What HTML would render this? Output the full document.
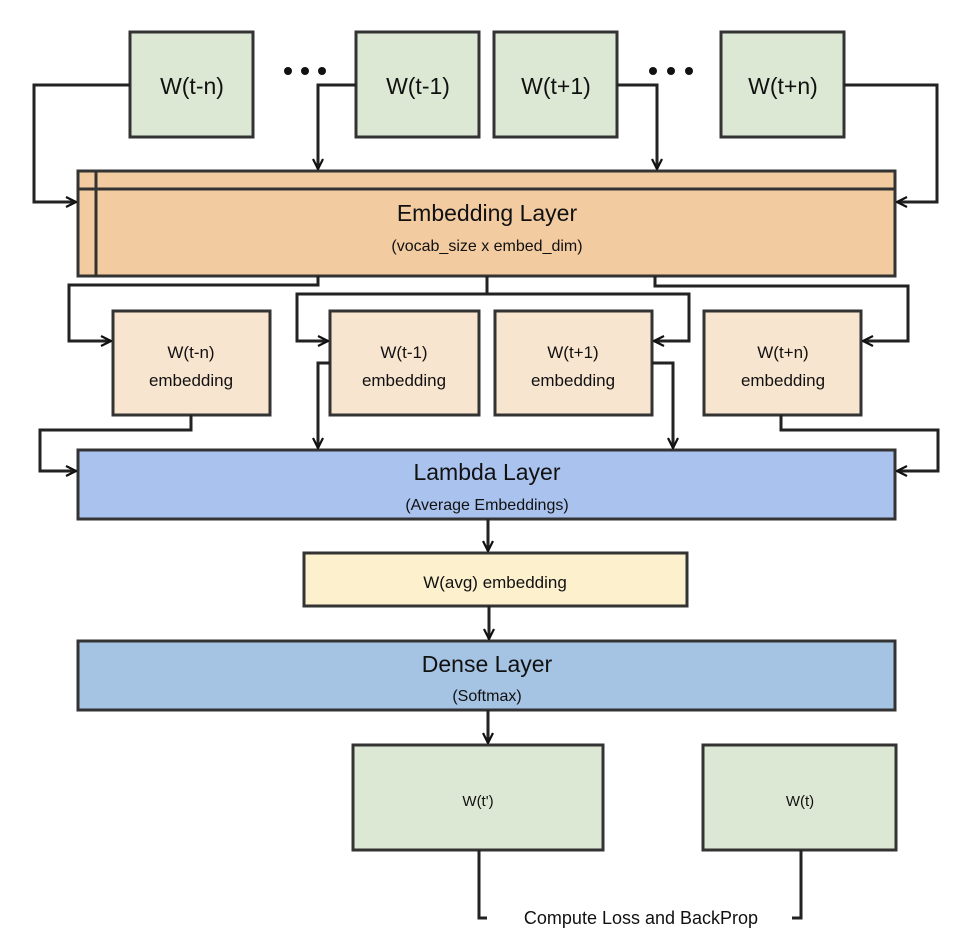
<!DOCTYPE html>
<html><head><meta charset="utf-8"><style>
html,body{margin:0;padding:0;background:#fff;}
svg{display:block;}
text{font-family:"Liberation Sans",sans-serif;fill:#111;text-anchor:middle;}
</style></head><body>
<svg width="970" height="944" viewBox="0 0 970 944" xmlns="http://www.w3.org/2000/svg">
<defs>
<marker id="a" viewBox="0 0 12 12" refX="11" refY="6" markerWidth="12" markerHeight="12" markerUnits="userSpaceOnUse" orient="auto">
<path d="M1,1 L11,6 L1,11" fill="none" stroke="#111" stroke-width="2.2"/>
</marker>
</defs>
<g stroke="#333" stroke-width="3">
<rect x="130" y="32" width="123" height="105" fill="#dce8d4"/>
<rect x="356" y="32" width="123" height="105" fill="#dce8d4"/>
<rect x="494" y="32" width="123" height="105" fill="#dce8d4"/>
<rect x="721" y="32" width="123" height="105" fill="#dce8d4"/>
<rect x="78" y="171" width="817" height="105" fill="#f2cba1"/>
<line x1="78" y1="189" x2="895" y2="189"/>
<line x1="96" y1="171" x2="96" y2="276"/>
<rect x="113" y="311" width="157" height="104" fill="#f8e5d0"/>
<rect x="330" y="311" width="149" height="104" fill="#f8e5d0"/>
<rect x="495" y="311" width="157" height="104" fill="#f8e5d0"/>
<rect x="704" y="311" width="157" height="104" fill="#f8e5d0"/>
<rect x="78" y="450" width="817" height="69" fill="#a9c2ee"/>
<rect x="304" y="553" width="383" height="53" fill="#fdf0cd"/>
<rect x="78" y="641" width="817" height="69" fill="#a5c3e3"/>
<rect x="353" y="745" width="250" height="105" fill="#dce8d4"/>
<rect x="703" y="745" width="193" height="105" fill="#dce8d4"/>
</g>
<g fill="none" stroke="#222" stroke-width="3">
<path d="M130,85 H34 V202 H76" marker-end="url(#a)"/>
<path d="M356,85 H318 V169" marker-end="url(#a)"/>
<path d="M617,85 H657 V169" marker-end="url(#a)"/>
<path d="M844,85 H937 V202 H897" marker-end="url(#a)"/>
<path d="M318,276 V285 H69 V341 H111" marker-end="url(#a)"/>
<path d="M487,276 V294 H297 V341 H328" marker-end="url(#a)"/>
<path d="M487,294 H689 V341 H654" marker-end="url(#a)"/>
<path d="M655,276 V286 H908 V341 H863" marker-end="url(#a)"/>
<path d="M191,415 V430 H40 V471 H76" marker-end="url(#a)"/>
<path d="M330,363 H318 V448" marker-end="url(#a)"/>
<path d="M652,363 H673 V448" marker-end="url(#a)"/>
<path d="M781,415 V430 H938 V471 H897" marker-end="url(#a)"/>
<path d="M488,519 V551" marker-end="url(#a)"/>
<path d="M489,606 V639" marker-end="url(#a)"/>
<path d="M488,710 V743" marker-end="url(#a)"/>
<path d="M479,850 V918 H487"/>
<path d="M801,850 V918 H792"/>
</g>
<g fill="#111">
<circle cx="288" cy="71" r="4"/><circle cx="305" cy="71" r="4"/><circle cx="322" cy="71" r="4"/>
<circle cx="653" cy="71" r="4"/><circle cx="671" cy="71" r="4"/><circle cx="689" cy="71" r="4"/>
</g>
<g font-size="23">
<text x="192" y="94">W(t-n)</text>
<text x="418" y="94">W(t-1)</text>
<text x="556" y="94">W(t+1)</text>
<text x="783" y="94">W(t+n)</text>
</g>
<text x="487" y="221" font-size="23">Embedding Layer</text>
<text x="487" y="251" font-size="16">(vocab_size x embed_dim)</text>
<g font-size="17">
<text x="191" y="358">W(t-n)</text><text x="191" y="386">embedding</text>
<text x="404" y="358">W(t-1)</text><text x="404" y="386">embedding</text>
<text x="573" y="358">W(t+1)</text><text x="573" y="386">embedding</text>
<text x="783" y="358">W(t+n)</text><text x="783" y="386">embedding</text>
</g>
<text x="487" y="480" font-size="23">Lambda Layer</text>
<text x="487" y="510" font-size="16">(Average Embeddings)</text>
<text x="495" y="588" font-size="17">W(avg) embedding</text>
<text x="487" y="672" font-size="23">Dense Layer</text>
<text x="487" y="701" font-size="16">(Softmax)</text>
<text x="478" y="806" font-size="15">W(t')</text>
<text x="800" y="806" font-size="15">W(t)</text>
<text x="641" y="924" font-size="18">Compute Loss and BackProp</text>
</svg>
</body></html>
